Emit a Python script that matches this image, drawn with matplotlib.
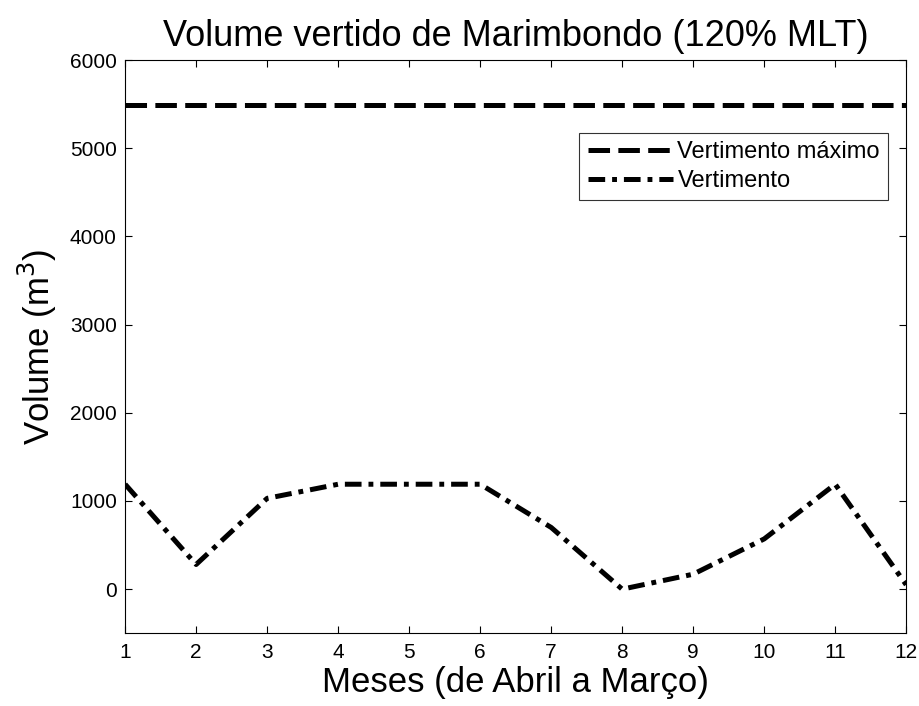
import matplotlib
matplotlib.use("Agg")
import matplotlib.pyplot as plt

plt.rcParams['font.family'] = ['Liberation Sans', 'DejaVu Sans']
plt.rcParams['lines.scale_dashes'] = False

meses = [1, 2, 3, 4, 5, 6, 7, 8, 9, 10, 11, 12]
vertimento = [1190, 280, 1030, 1190, 1190, 1190, 700, 0, 170, 570, 1190, 50]
vert_max = 5490

fig = plt.figure(figsize=(9.2, 7.06), dpi=100)
ax = fig.add_axes([0.136, 0.103, 0.849, 0.812])

ax.plot(meses, [vert_max] * len(meses), color='black', lw=3.6,
        dashes=(15.5, 6), label='Vertimento máximo')
ax.plot(meses, vertimento, color='black', lw=3.6,
        dashes=(12, 5, 3.5, 5), label='Vertimento')

ax.set_xlim(1, 12)
ax.set_ylim(-500, 6000)
ax.set_xticks(meses)
ax.set_yticks([0, 1000, 2000, 3000, 4000, 5000, 6000])
ax.tick_params(direction='in', top=True, right=True, labelsize=15, length=5, width=0.8)
ax.tick_params(axis='x', pad=7)
ax.tick_params(axis='y', pad=6)
for s in ax.spines.values():
    s.set_linewidth(0.8)

ax.set_title('Volume vertido de Marimbondo (120% MLT)', fontsize=26, pad=10)
ax.set_xlabel('Meses (de Abril a Março)', fontsize=25, labelpad=3)
ax.set_ylabel('Volume (m$^3$)', fontsize=25, labelpad=8)

leg = ax.legend(loc='upper right', bbox_to_anchor=(0.977, 0.873), borderaxespad=0,
                fontsize=17, frameon=True, fancybox=False, edgecolor='black',
                handlelength=3.6, borderpad=0.35, labelspacing=0.3, handletextpad=0.2)
leg.get_frame().set_linewidth(0.8)

fig.savefig('out.png', dpi=100)
